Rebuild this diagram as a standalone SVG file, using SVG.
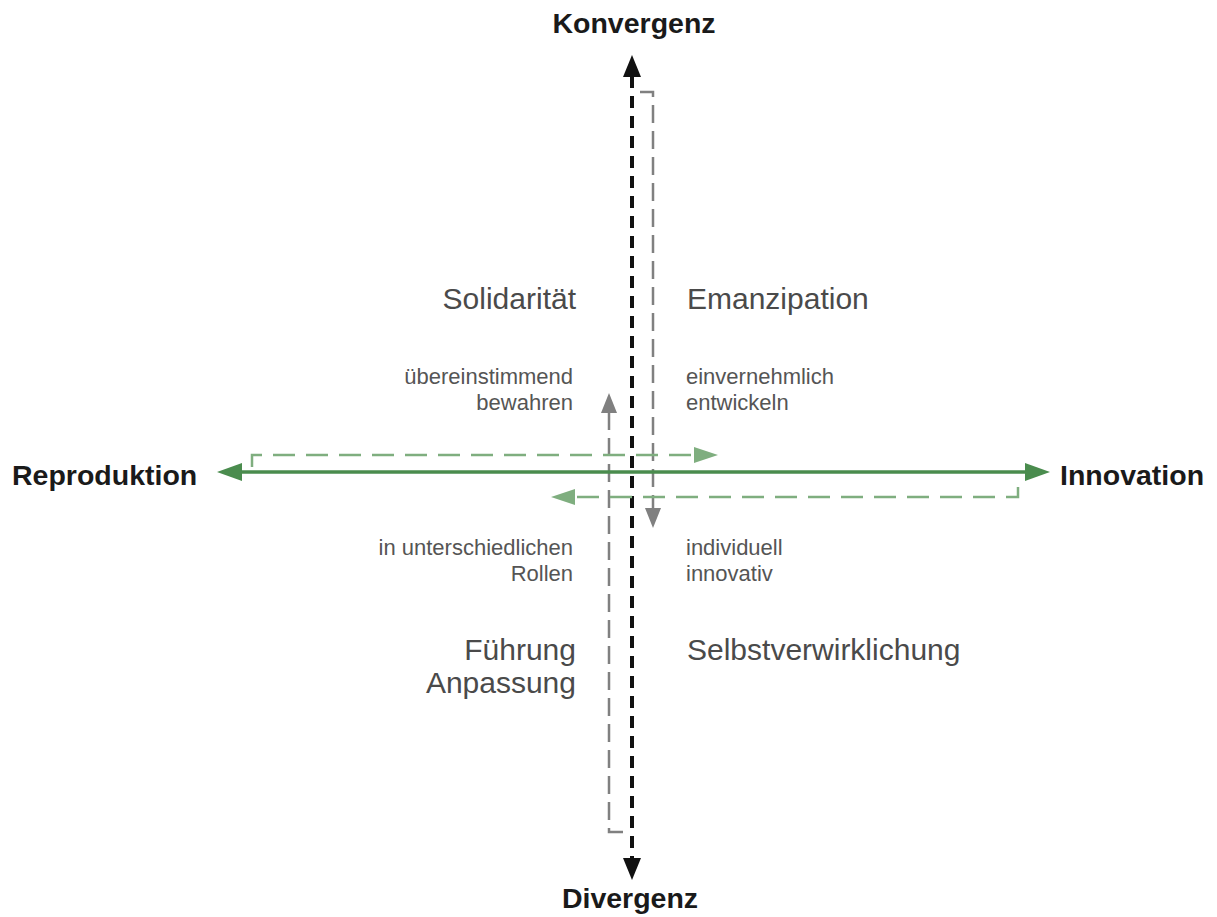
<svg xmlns="http://www.w3.org/2000/svg" width="1217" height="917" viewBox="0 0 1217 917">
<defs>
<style>
.ax{font-family:"Liberation Sans",Arial,sans-serif;font-weight:bold;font-size:28.5px;fill:#1a1a1a}
.q{font-family:"Liberation Sans",Arial,sans-serif;font-size:30px;fill:#4a4a4a}
.s{font-family:"Liberation Sans",Arial,sans-serif;font-size:22px;fill:#555}
.blk{stroke:#111;stroke-width:4;fill:none;stroke-dasharray:12 8}
.gry{stroke:#808080;stroke-width:2.5;fill:none;stroke-dasharray:18 8}
.gd{stroke:#7fae7f;stroke-width:2.5;fill:none;stroke-dasharray:22 11}
.gs{stroke:#4a8c4e;stroke-width:3.5;fill:none}
</style>
</defs>
<g id="connectors">
<line class="blk" x1="632" y1="76" x2="632" y2="858"/>
<polygon points="632,55 623,77 641,77" fill="#111"/>
<polygon points="632,880 623,858 641,858" fill="#111"/>
<path class="gry" d="M640,92 H653 V512"/>
<polygon points="653,528 645,508 661,508" fill="#808080"/>
<path class="gry" d="M609,412 V832 H624"/>
<polygon points="609,393 601,413 617,413" fill="#808080"/>
<line class="gs" x1="238" y1="472" x2="1030" y2="472"/>
<polygon points="217,472 242,463 242,481" fill="#4a8c4e"/>
<polygon points="1050,472 1025,463 1025,481" fill="#4a8c4e"/>
<path class="gd" d="M252,467 V455 H695"/>
<polygon points="718,455 694,447 694,463" fill="#7fae7f"/>
<path class="gd" d="M1018,487 V497 H574"/>
<polygon points="551,497 575,489 575,505" fill="#7fae7f"/>
</g>
<g id="konvergenz"><text class="ax" x="634" y="33" text-anchor="middle">Konvergenz</text></g>
<g id="divergenz"><text class="ax" x="630" y="908" text-anchor="middle">Divergenz</text></g>
<g id="reproduktion"><text class="ax" x="12" y="485">Reproduktion</text></g>
<g id="innovation"><text class="ax" x="1060" y="485">Innovation</text></g>
<g id="solidaritaet"><text class="q" x="576" y="309" text-anchor="end">Solidarität</text>
<text class="s" x="573" y="384" text-anchor="end">übereinstimmend</text>
<text class="s" x="573" y="410" text-anchor="end">bewahren</text></g>
<g id="emanzipation"><text class="q" x="687" y="309">Emanzipation</text>
<text class="s" x="686" y="384">einvernehmlich</text>
<text class="s" x="686" y="410">entwickeln</text></g>
<g id="fuehrung"><text class="s" x="573" y="555" text-anchor="end">in unterschiedlichen</text>
<text class="s" x="573" y="581" text-anchor="end">Rollen</text>
<text class="q" x="576" y="660" text-anchor="end">Führung</text>
<text class="q" x="576" y="693" text-anchor="end">Anpassung</text></g>
<g id="selbstverwirklichung"><text class="s" x="686" y="555">individuell</text>
<text class="s" x="686" y="581">innovativ</text>
<text class="q" x="687" y="660">Selbstverwirklichung</text></g>
</svg>
